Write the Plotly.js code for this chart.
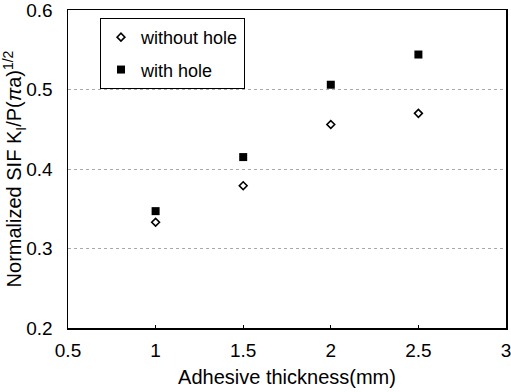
<!DOCTYPE html>
<html>
<head>
<meta charset="utf-8">
<script src="https://cdn.plot.ly/plotly-3.0.1.min.js"></script>
<style>html,body{margin:0;padding:0;background:#fff;}#chart{width:511px;height:392px;}</style>
</head>
<body>
<div id="chart"></div>
<script>
const thickness = [1, 1.5, 2, 2.5];
const withoutHole = [0.333, 0.379, 0.456, 0.470];
const withHole = [0.347, 0.415, 0.506, 0.544];
const seriesNames = ['without hole', 'with hole'];

const traces = [
  {x: thickness, y: withoutHole, name: seriesNames[0], type: 'scatter', mode: 'markers', legendgroup: 'a',
   marker: {symbol: 'diamond-open', size: 6, color: '#000', line: {width: 1.6, color: '#000'}}},
  {x: thickness, y: withHole, name: seriesNames[1], type: 'scatter', mode: 'markers', legendgroup: 'b',
   marker: {symbol: 'square', size: 8, color: '#000'}}
];

const font = {family: 'Liberation Sans, Arial, sans-serif', color: '#000'};
const f = s => Object.assign({size: s}, font);
const layout = {
  width: 511, height: 392,
  margin: {l: 68, r: 5, t: 10, b: 64},
  paper_bgcolor: '#fff', plot_bgcolor: '#fff',
  font: f(18),
  showlegend: true,
  legend: {x: 0.073, y: 0.975, xanchor: 'left', yanchor: 'top', bgcolor: '#fff',
    bordercolor: '#000', borderwidth: 1, traceorder: 'grouped', tracegroupgap: 6,
    font: f(18)},
  xaxis: {range: [0.5, 3], dtick: 0.5, tick0: 0.5, showgrid: false, zeroline: false,
    showline: true, mirror: true, linecolor: '#000', linewidth: 1.5,
    ticks: 'inside', ticklen: 3, tickcolor: '#000', ticklabeloverflow: 'allow',
    ticklabelstandoff: 5,
    tickfont: f(19),
    title: {text: 'Adhesive thickness(mm)', font: f(20), standoff: 9}},
  yaxis: {range: [0.2, 0.6], dtick: 0.1, tick0: 0.2, tickformat: '.1f', showgrid: true,
    gridcolor: '#aaa', griddash: 'dot', gridwidth: 1, zeroline: false,
    showline: true, mirror: true, linecolor: '#000', linewidth: 1.5, ticks: '',
    ticklabelstandoff: 10, ticklabeloverflow: 'allow',
    tickfont: f(19),
    title: {text: 'Normalized SIF K<sub>I</sub>/P(<i>π</i>a)<sup>1/2</sup>', font: f(20), standoff: 3}}
};

Plotly.newPlot('chart', traces, layout, {displayModeBar: false, staticPlot: true});
</script>
</body>
</html>
